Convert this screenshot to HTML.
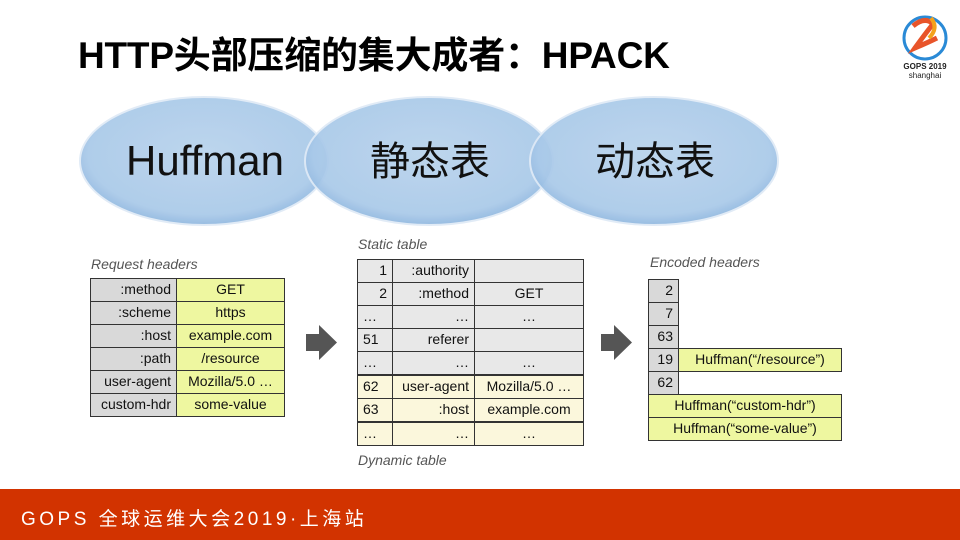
<!DOCTYPE html>
<html><head><meta charset="utf-8"><style>
*{margin:0;padding:0;box-sizing:border-box}
body{width:960px;height:540px;position:relative;background:#fff;overflow:hidden;font-family:"Liberation Sans","Noto Sans CJK SC",sans-serif}
.a{position:absolute}
.c{position:absolute;border:1px solid #333;font-size:14px;line-height:21px;height:24px;padding:0 5px;color:#111;white-space:nowrap}
.g{background:#d9d9d9}.y{background:#eef7a0}.w{background:#e8e8e8}.ly{background:#fbf7dc}
.r{text-align:right}.m{text-align:center}
.lbl{position:absolute;font-style:italic;font-size:14px;color:#555}
</style></head><body>
<div class="a" style="left:78px;top:25px;font-size:37px;font-weight:bold;letter-spacing:-0.2px;font-family:'Liberation Sans','Noto Sans CJK SC',sans-serif;color:#000">HTTP头部压缩的集大成者：HPACK</div>
<svg class="a" style="left:895px;top:8px" width="60" height="72" viewBox="0 0 60 72">
<circle cx="30" cy="30" r="21" fill="none" stroke="#2a8ad6" stroke-width="3"/>
<path d="M18 18 Q30 8 38 16 Q30 26 20 40 Q34 34 42 30" fill="none" stroke="#e8542a" stroke-width="5"/>
<path d="M36 10 Q44 20 34 30" fill="none" stroke="#f4a21c" stroke-width="4"/>
<text x="30" y="61" font-size="8" font-weight="bold" text-anchor="middle" fill="#222">GOPS 2019</text>
<text x="30" y="70" font-size="8" text-anchor="middle" fill="#222">shanghai</text>
</svg>
<svg class="a" style="left:0;top:0" width="960" height="240">
<defs><radialGradient id="gr" cx="50%" cy="45%" r="55%"><stop offset="0" stop-color="#b8d3ec"/><stop offset="0.85" stop-color="#a9c9e9"/><stop offset="1" stop-color="#8fb7df"/></radialGradient></defs>
<ellipse cx="204" cy="161" rx="124" ry="64" fill="url(#gr)" stroke="#dfeaf6" stroke-width="2" opacity="0.92"/>
<ellipse cx="429" cy="161" rx="124" ry="64" fill="url(#gr)" stroke="#dfeaf6" stroke-width="2" opacity="0.92"/>
<ellipse cx="654" cy="161" rx="124" ry="64" fill="url(#gr)" stroke="#dfeaf6" stroke-width="2" opacity="0.92"/>
<text x="205" y="175" font-size="42" text-anchor="middle" fill="#111" font-family="'Liberation Sans','Noto Sans CJK SC',sans-serif">Huffman</text>
<text x="430" y="175" font-size="40" text-anchor="middle" fill="#111" font-family="'Noto Sans CJK SC',sans-serif">静态表</text>
<text x="655" y="175" font-size="40" text-anchor="middle" fill="#111" font-family="'Noto Sans CJK SC',sans-serif">动态表</text>
</svg>

<div class="lbl" style="left:91px;top:256px">Request headers</div>
<div class="c g r" style="left:90px;top:278px;width:87px">:method</div><div class="c y m" style="left:176px;top:278px;width:109px">GET</div>
<div class="c g r" style="left:90px;top:301px;width:87px">:scheme</div><div class="c y m" style="left:176px;top:301px;width:109px">https</div>
<div class="c g r" style="left:90px;top:324px;width:87px">:host</div><div class="c y m" style="left:176px;top:324px;width:109px">example.com</div>
<div class="c g r" style="left:90px;top:347px;width:87px">:path</div><div class="c y m" style="left:176px;top:347px;width:109px">/resource</div>
<div class="c g r" style="left:90px;top:370px;width:87px">user-agent</div><div class="c y m" style="left:176px;top:370px;width:109px">Mozilla/5.0 …</div>
<div class="c g r" style="left:90px;top:393px;width:87px">custom-hdr</div><div class="c y m" style="left:176px;top:393px;width:109px">some-value</div>

<svg class="a" style="left:300px;top:320px" width="45" height="45"><polygon points="6,14 19,14 19,5 37,22.5 19,40 19,31 6,31" fill="#555"/></svg>
<svg class="a" style="left:595px;top:320px" width="45" height="45"><polygon points="6,14 19,14 19,5 37,22.5 19,40 19,31 6,31" fill="#555"/></svg>

<div class="lbl" style="left:358px;top:236px">Static table</div>
<div class="lbl" style="left:358px;top:452px">Dynamic table</div>
<div class="c w r" style="left:357px;top:259px;width:36px">1</div><div class="c w r" style="left:392px;top:259px;width:83px">:authority</div><div class="c w m" style="left:474px;top:259px;width:110px"></div>
<div class="c w r" style="left:357px;top:282px;width:36px">2</div><div class="c w r" style="left:392px;top:282px;width:83px">:method</div><div class="c w m" style="left:474px;top:282px;width:110px">GET</div>
<div class="c w" style="left:357px;top:305px;width:36px">…</div><div class="c w r" style="left:392px;top:305px;width:83px">…</div><div class="c w m" style="left:474px;top:305px;width:110px">…</div>
<div class="c w" style="left:357px;top:328px;width:36px">51</div><div class="c w r" style="left:392px;top:328px;width:83px">referer</div><div class="c w m" style="left:474px;top:328px;width:110px"></div>
<div class="c w" style="left:357px;top:351px;width:36px">…</div><div class="c w r" style="left:392px;top:351px;width:83px">…</div><div class="c w m" style="left:474px;top:351px;width:110px">…</div>
<div class="c ly" style="left:357px;top:375px;width:36px">62</div><div class="c ly r" style="left:392px;top:375px;width:83px">user-agent</div><div class="c ly m" style="left:474px;top:375px;width:110px">Mozilla/5.0 …</div>
<div class="c ly" style="left:357px;top:398px;width:36px">63</div><div class="c ly r" style="left:392px;top:398px;width:83px">:host</div><div class="c ly m" style="left:474px;top:398px;width:110px">example.com</div>
<div class="c ly" style="left:357px;top:422px;width:36px">…</div><div class="c ly r" style="left:392px;top:422px;width:83px">…</div><div class="c ly m" style="left:474px;top:422px;width:110px">…</div>

<div class="lbl" style="left:650px;top:254px">Encoded headers</div>
<div class="c g r" style="left:648px;top:279px;width:31px">2</div>
<div class="c g r" style="left:648px;top:302px;width:31px">7</div>
<div class="c g r" style="left:648px;top:325px;width:31px">63</div>
<div class="c g r" style="left:648px;top:348px;width:31px">19</div><div class="c y m" style="left:678px;top:348px;width:164px">Huffman(“/resource”)</div>
<div class="c g r" style="left:648px;top:371px;width:31px">62</div>
<div class="c y m" style="left:648px;top:394px;width:194px">Huffman(“custom-hdr”)</div>
<div class="c y m" style="left:648px;top:417px;width:194px">Huffman(“some-value”)</div>

<div class="a" style="left:0;top:489px;width:960px;height:51px;background:#d23300"></div>
<div class="a" style="left:21px;top:504px;color:#fff;font-size:19px;letter-spacing:3.5px;font-family:'Liberation Sans','Noto Sans CJK SC',sans-serif">GOPS 全球运维大会2019·上海站</div>
</body></html>
